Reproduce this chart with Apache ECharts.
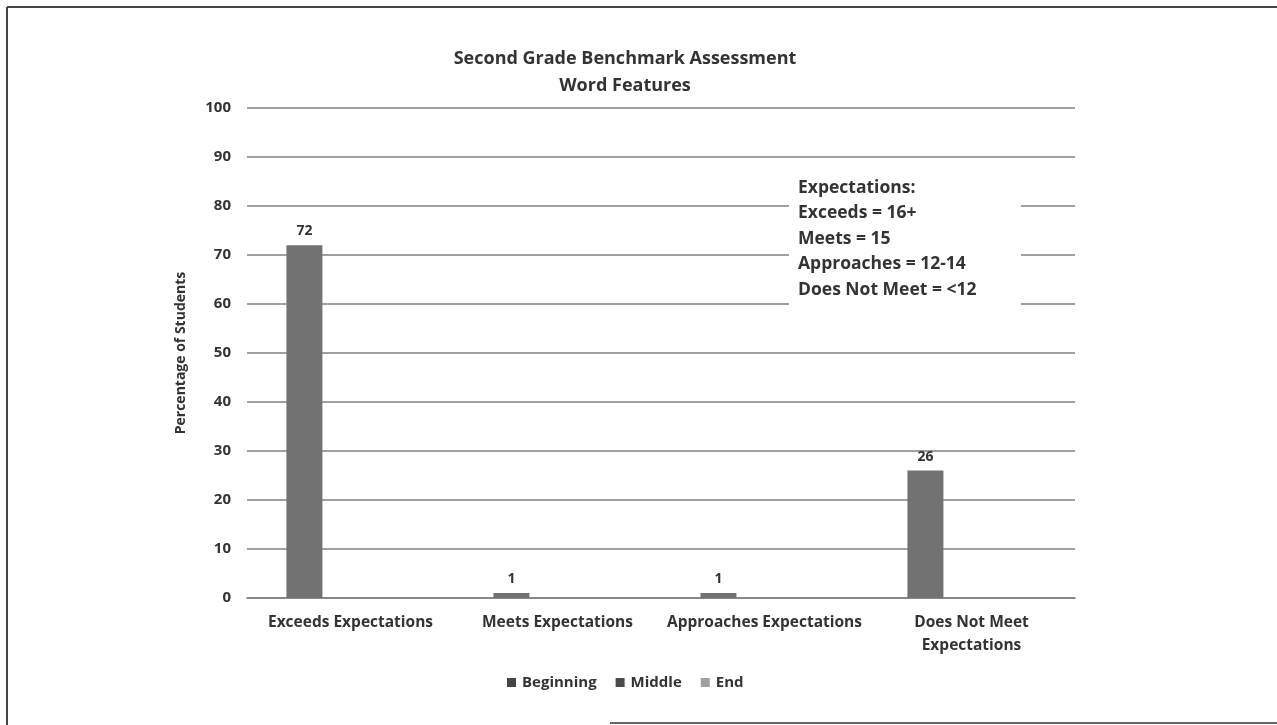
<!DOCTYPE html>
<html>
<head>
<meta charset="utf-8">
<script src="https://cdn.jsdelivr.net/npm/echarts@6/dist/echarts.min.js"></script>
<style>
html,body{margin:0;padding:0;background:#fff;}
#chart{width:1277px;height:725px;}
</style>
</head>
<body>
<div id="chart"></div>
<script>
var categories = ['Exceeds Expectations', 'Meets Expectations', 'Approaches Expectations', 'Does Not Meet\nExpectations'];
var seriesNames = ['Beginning', 'Middle', 'End'];
var beginningValues = [72, 1, 1, 26];
var middleValues = [null, null, null, null];
var endValues = [null, null, null, null];
var yTicks = {min: 0, max: 100, interval: 10};
var titleLines = ['Second Grade Benchmark Assessment', 'Word Features'];
var noteLines = ['Expectations:', 'Exceeds = 16+', 'Meets = 15', 'Approaches = 12-14', 'Does Not Meet = <12'];

var FONT = '"Open Sans", Lato, sans-serif';
var chart = echarts.init(document.getElementById('chart'));
var labelStyle = {show: true, position: 'top', distance: 7, color: '#333', fontFamily: FONT, fontWeight: 'bold', fontSize: 14};

chart.setOption({
  backgroundColor: '#fff',
  animation: false,
  title: {
    text: titleLines.join('\n'),
    left: 620, top: 40, textAlign: 'center',
    textStyle: {fontFamily: FONT, fontWeight: 'bold', fontSize: 18, color: '#333', lineHeight: 27}
  },
  legend: {
    data: [
      {name: seriesNames[0], itemStyle: {color: '#444'}},
      {name: seriesNames[1], itemStyle: {color: '#4a4a4a'}},
      {name: seriesNames[2], itemStyle: {color: '#a0a0a0'}}
    ],
    left: 502, top: 670, icon: 'rect', itemWidth: 9, itemHeight: 9, itemGap: 19,
    textStyle: {fontFamily: FONT, fontWeight: 'bold', fontSize: 15, color: '#333', padding: [0, 0, 0, 1]}
  },
  grid: {left: 247, right: 202, top: 108, bottom: 127},
  xAxis: {
    type: 'category', data: categories,
    axisLine: {show: true, lineStyle: {color: '#808080', width: 1.5}},
    axisTick: {show: false},
    axisLabel: {margin: 13, color: '#333', fontFamily: FONT, fontWeight: 'bold', fontSize: 15.5, lineHeight: 23, interval: 0}
  },
  yAxis: {
    type: 'value', min: yTicks.min, max: yTicks.max, interval: yTicks.interval,
    name: 'Percentage of Students', nameLocation: 'middle', nameGap: 59, nameRotate: 90,
    nameTextStyle: {fontFamily: FONT, fontWeight: 'bold', fontSize: 14, color: '#333'},
    axisLine: {show: false}, axisTick: {show: false},
    axisLabel: {margin: 16, color: '#333', fontFamily: FONT, fontWeight: 'bold', fontSize: 15},
    splitLine: {lineStyle: {color: '#808080', width: 1.5}}
  },
  series: [
    {name: seriesNames[0], type: 'bar', data: beginningValues, barWidth: 36, barGap: '28%', itemStyle: {color: '#727272'}, label: labelStyle},
    {name: seriesNames[1], type: 'bar', data: middleValues, barWidth: 36, barGap: '28%', itemStyle: {color: '#4a4a4a'}},
    {name: seriesNames[2], type: 'bar', data: endValues, barWidth: 36, barGap: '28%', itemStyle: {color: '#a0a0a0'}}
  ],
  graphic: [
    {type: 'rect', shape: {x: 789, y: 170, width: 232, height: 142}, style: {fill: '#fff'}, z: 10},
    {type: 'text', x: 798, y: 175, z: 11, style: {text: noteLines.join('\n'), fontFamily: FONT, fontWeight: 'bold', fontSize: 17.5, lineHeight: 25.5, fill: '#333'}},
    {type: 'line', shape: {x1: 7, y1: 7, x2: 1277, y2: 7}, style: {stroke: '#444', lineWidth: 2}, z: 20},
    {type: 'line', shape: {x1: 7, y1: 7, x2: 7, y2: 725}, style: {stroke: '#444', lineWidth: 2}, z: 20},
    {type: 'line', shape: {x1: 610, y1: 723, x2: 1277, y2: 723}, style: {stroke: '#666', lineWidth: 2}, z: 20}
  ]
});
</script>
</body>
</html>
